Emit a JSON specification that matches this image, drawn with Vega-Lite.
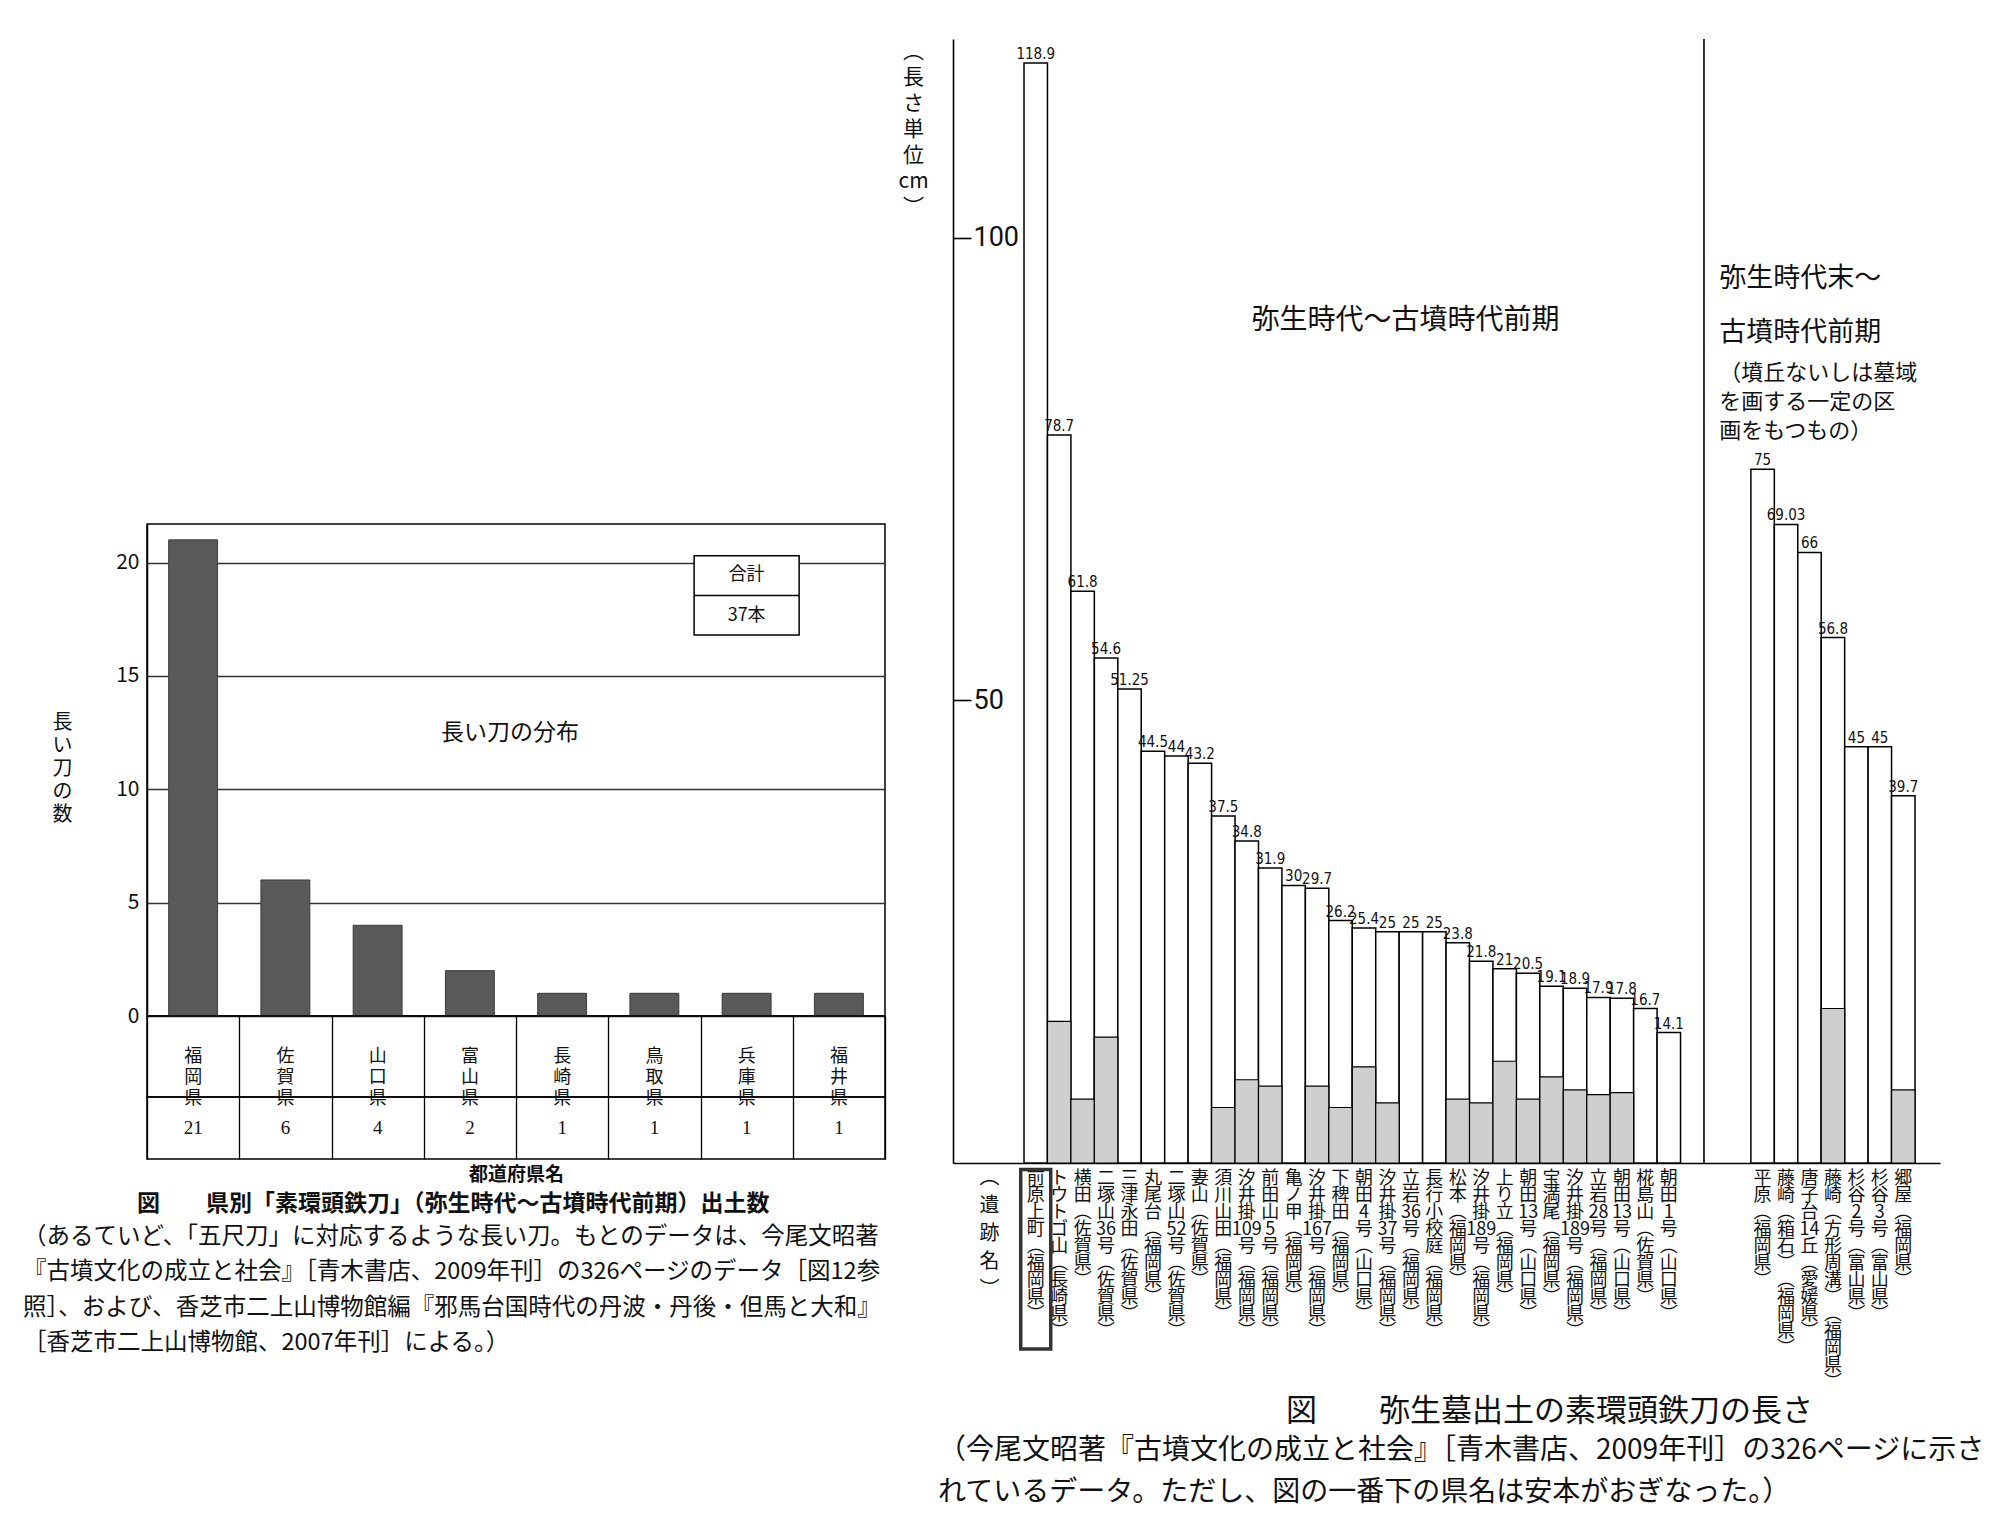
{
  "$schema": "https://vega.github.io/schema/vega-lite/v6.json",
  "padding": {"left": 23, "top": 38, "right": 2, "bottom": 4},
  "background": "white",
  "spacing": 11,
  "datasets": {
    "prefs": [
      {"pref": "福岡県", "count": 21},
      {"pref": "佐賀県", "count": 6},
      {"pref": "山口県", "count": 4},
      {"pref": "富山県", "count": 2},
      {"pref": "長崎県", "count": 1},
      {"pref": "鳥取県", "count": 1},
      {"pref": "兵庫県", "count": 1},
      {"pref": "福井県", "count": 1}
    ],
    "swords": [
      {"key": "01/前/原/上/町/︵/福/岡/県/︶", "length": 118.9, "tang": 0},
      {"key": "02/ト/ウ/ト/ゴ/山/︵/長/崎/県/︶", "length": 78.7, "tang": 15.3},
      {"key": "03/横/田/︵/佐/賀/県/︶", "length": 61.8, "tang": 6.9},
      {"key": "04/二/塚/山/36/号/︵/佐/賀/県/︶", "length": 54.6, "tang": 13.6},
      {"key": "05/三/津/永/田/︵/佐/賀/県/︶", "length": 51.25, "tang": 0},
      {"key": "06/丸/尾/台/︵/福/岡/県/︶", "length": 44.5, "tang": 0},
      {"key": "07/二/塚/山/52/号/︵/佐/賀/県/︶", "length": 44, "tang": 0},
      {"key": "08/妻/山/︵/佐/賀/県/︶", "length": 43.2, "tang": 0},
      {"key": "09/須/川/山/田/︵/福/岡/県/︶", "length": 37.5, "tang": 6.0},
      {"key": "10/汐/井/掛/109/号/︵/福/岡/県/︶", "length": 34.8, "tang": 9.0},
      {"key": "11/前/田/山/5/号/︵/福/岡/県/︶", "length": 31.9, "tang": 8.3},
      {"key": "12/亀/ノ/甲/︵/福/岡/県/︶", "length": 30, "tang": 0},
      {"key": "13/汐/井/掛/167/号/︵/福/岡/県/︶", "length": 29.7, "tang": 8.3},
      {"key": "14/下/稗/田/︵/福/岡/県/︶", "length": 26.2, "tang": 6.0},
      {"key": "15/朝/田/4/号/︵/山/口/県/︶", "length": 25.4, "tang": 10.4},
      {"key": "16/汐/井/掛/37/号/︵/福/岡/県/︶", "length": 25, "tang": 6.5},
      {"key": "17/立/岩/36/号/︵/福/岡/県/︶", "length": 25, "tang": 0},
      {"key": "18/長/行/小/校/庭/︵/福/岡/県/︶", "length": 25, "tang": 0},
      {"key": "19/松/本/︵/福/岡/県/︶", "length": 23.8, "tang": 6.9},
      {"key": "20/汐/井/掛/189/号/︵/福/岡/県/︶", "length": 21.8, "tang": 6.5},
      {"key": "21/上/り/立/︵/福/岡/県/︶", "length": 21, "tang": 11.0},
      {"key": "22/朝/田/13/号/︵/山/口/県/︶", "length": 20.5, "tang": 6.9},
      {"key": "23/宝/満/尾/︵/福/岡/県/︶", "length": 19.1, "tang": 9.3},
      {"key": "24/汐/井/掛/189/号/︵/福/岡/県/︶", "length": 18.9, "tang": 7.9},
      {"key": "25/立/岩/28/号/︵/福/岡/県/︶", "length": 17.9, "tang": 7.4},
      {"key": "26/朝/田/13/号/︵/山/口/県/︶", "length": 17.8, "tang": 7.6},
      {"key": "27/椛/島/山/︵/佐/賀/県/︶", "length": 16.7, "tang": 0},
      {"key": "28/朝/田/1/号/︵/山/口/県/︶", "length": 14.1, "tang": 0},
      {"key": "29/平/原/︵/福/岡/県/︶", "length": 75, "tang": 0},
      {"key": "30/藤/崎/︵/箱/石/︶/︵/福/岡/県/︶", "length": 69.03, "tang": 0},
      {"key": "31/唐/子/台/14/丘/︵/愛/媛/県/︶", "length": 66, "tang": 0},
      {"key": "32/藤/崎/︵/方/形/周/溝/︶/︵/福/岡/県/︶", "length": 56.8, "tang": 16.7},
      {"key": "33/杉/谷/2/号/︵/富/山/県/︶", "length": 45, "tang": 0},
      {"key": "34/杉/谷/3/号/︵/富/山/県/︶", "length": 45, "tang": 0},
      {"key": "35/郷/屋/︵/福/岡/県/︶", "length": 39.7, "tang": 7.9}
    ]
  },
  "hconcat": [
    {
      "vconcat": [
        {
          "width": 738,
          "height": 485,
          "data": {"values": [{"t": ""}]},
          "mark": {"type": "text"},
          "encoding": {"text": {"field": "t"}}
        },
        {
          "width": 738,
          "height": 492,
          "view": {"stroke": "black", "strokeWidth": 1.5},
          "data": {"name": "prefs"},
          "layer": [
            {
              "mark": {"type": "bar", "color": "#595959", "stroke": "#3a3a3a", "strokeWidth": 1},
              "encoding": {
                "x": {"field": "pref", "type": "nominal", "sort": null, "scale": {"paddingInner": 0.47, "paddingOuter": 0.235}, "axis": null},
                "y": {
                  "field": "count", "type": "quantitative",
                  "scale": {"domain": [0, 21.7], "nice": false},
                  "axis": {
                    "values": [0, 5, 10, 15, 20], "grid": true, "gridColor": "#333", "gridWidth": 1.4,
                    "ticks": false, "domain": true, "domainColor": "black", "domainWidth": 1.5,
                    "labelFontSize": 21, "labelPadding": 8,
                    "title": ["長", "い", "刀", "の", "数"], "titleAngle": 0, "titleX": -85, "titleY": 188,
                    "titleAlign": "center", "titleBaseline": "top", "titleFontSize": 20, "titleLineHeight": 23
                  }
                }
              }
            },
            {
              "data": {"values": [{}]},
              "mark": {"type": "bar", "width": 105, "fill": "white", "stroke": "black", "strokeWidth": 1.5},
              "encoding": {"x": {"datum": "兵庫県"}, "y": {"datum": 16.8}, "y2": {"datum": 20.3}}
            },
            {
              "data": {"values": [{}]},
              "mark": {"type": "tick", "size": 105, "thickness": 1.5, "color": "black", "opacity": 1},
              "encoding": {"x": {"datum": "兵庫県"}, "y": {"datum": 18.55}}
            },
            {
              "data": {"values": [{}]},
              "mark": {"type": "text", "fontSize": 18, "baseline": "middle"},
              "encoding": {"x": {"datum": "兵庫県"}, "y": {"datum": 19.45}, "text": {"value": "合計"}}
            },
            {
              "data": {"values": [{}]},
              "mark": {"type": "text", "fontSize": 18, "baseline": "middle"},
              "encoding": {"x": {"datum": "兵庫県"}, "y": {"datum": 17.65}, "text": {"value": "37本"}}
            },
            {
              "data": {"values": [{}]},
              "mark": {"type": "text", "fontSize": 23, "baseline": "middle", "dx": 40},
              "encoding": {"x": {"datum": "富山県"}, "y": {"datum": 12.5}, "text": {"value": "長い刀の分布"}}
            }
          ]
        },
        {
          "width": 738,
          "height": 81,
          "view": {"stroke": "black", "strokeWidth": 1.5},
          "data": {"name": "prefs"},
          "transform": [{"calculate": "split(datum.pref, '')", "as": "chars"}],
          "mark": {"type": "text", "fontSize": 18, "lineHeight": 21, "baseline": "middle"},
          "encoding": {
            "x": {
              "field": "pref", "type": "nominal", "sort": null,
              "scale": {"paddingInner": 0, "paddingOuter": 0},
              "axis": {"orient": "top", "grid": true, "tickBand": "extent", "gridColor": "black", "gridWidth": 1.3, "domain": false, "ticks": false, "labels": false, "title": null}
            },
            "text": {"field": "chars"}
          }
        },
        {
          "width": 738,
          "height": 62,
          "view": {"stroke": "black", "strokeWidth": 1.5},
          "data": {"name": "prefs"},
          "title": {"text": "図　　県別「素環頭鉄刀」（弥生時代～古墳時代前期）出土数", "orient": "bottom", "anchor": "start", "frame": "group", "dx": -10, "fontSize": 23, "fontWeight": "bold", "offset": 9},
          "mark": {"type": "text", "fontSize": 19, "font": "Liberation Serif", "baseline": "middle"},
          "encoding": {
            "x": {
              "field": "pref", "type": "nominal", "sort": null,
              "scale": {"paddingInner": 0, "paddingOuter": 0},
              "axis": {"orient": "bottom", "grid": true, "tickBand": "extent", "gridColor": "black", "gridWidth": 1.3, "domain": false, "ticks": false, "labels": false, "title": "都道府県名", "titleFontSize": 19, "titleFontWeight": "bold", "titlePadding": 6}
            },
            "text": {"field": "count", "type": "quantitative"}
          }
        }
      ],
      "spacing": 0,
      "bounds": "flush",
      "title": {
        "text": [
          "（あるていど、「五尺刀」に対応するような長い刀。もとのデータは、今尾文昭著",
          "『古墳文化の成立と社会』［青木書店、2009年刊］の326ページのデータ［図12参",
          "照］、および、香芝市二上山博物館編『邪馬台国時代の丹波・丹後・但馬と大和』",
          "［香芝市二上山博物館、2007年刊］による。）"
        ],
        "orient": "bottom", "anchor": "start", "frame": "group", "dx": -124, "fontSize": 23.5, "lineHeight": 35.5, "fontWeight": "normal", "offset": 8
      }
    },
    {
      "vconcat": [
        {
          "width": 987,
          "height": 1124,
          "data": {"name": "swords"},
          "title": {"text": "図　　弥生墓出土の素環頭鉄刀の長さ", "orient": "bottom", "anchor": "start", "frame": "group", "dx": 333, "fontSize": 31, "fontWeight": "normal", "offset": 6},
          "encoding": {
            "x": {
              "field": "key", "type": "nominal",
              "scale": {
                "domain": [
                  "a1", "a2",
                  "01/前/原/上/町/︵/福/岡/県/︶",
                  "02/ト/ウ/ト/ゴ/山/︵/長/崎/県/︶",
                  "03/横/田/︵/佐/賀/県/︶",
                  "04/二/塚/山/36/号/︵/佐/賀/県/︶",
                  "05/三/津/永/田/︵/佐/賀/県/︶",
                  "06/丸/尾/台/︵/福/岡/県/︶",
                  "07/二/塚/山/52/号/︵/佐/賀/県/︶",
                  "08/妻/山/︵/佐/賀/県/︶",
                  "09/須/川/山/田/︵/福/岡/県/︶",
                  "10/汐/井/掛/109/号/︵/福/岡/県/︶",
                  "11/前/田/山/5/号/︵/福/岡/県/︶",
                  "12/亀/ノ/甲/︵/福/岡/県/︶",
                  "13/汐/井/掛/167/号/︵/福/岡/県/︶",
                  "14/下/稗/田/︵/福/岡/県/︶",
                  "15/朝/田/4/号/︵/山/口/県/︶",
                  "16/汐/井/掛/37/号/︵/福/岡/県/︶",
                  "17/立/岩/36/号/︵/福/岡/県/︶",
                  "18/長/行/小/校/庭/︵/福/岡/県/︶",
                  "19/松/本/︵/福/岡/県/︶",
                  "20/汐/井/掛/189/号/︵/福/岡/県/︶",
                  "21/上/り/立/︵/福/岡/県/︶",
                  "22/朝/田/13/号/︵/山/口/県/︶",
                  "23/宝/満/尾/︵/福/岡/県/︶",
                  "24/汐/井/掛/189/号/︵/福/岡/県/︶",
                  "25/立/岩/28/号/︵/福/岡/県/︶",
                  "26/朝/田/13/号/︵/山/口/県/︶",
                  "27/椛/島/山/︵/佐/賀/県/︶",
                  "28/朝/田/1/号/︵/山/口/県/︶",
                  "g1", "g2", "g3",
                  "29/平/原/︵/福/岡/県/︶",
                  "30/藤/崎/︵/箱/石/︶/︵/福/岡/県/︶",
                  "31/唐/子/台/14/丘/︵/愛/媛/県/︶",
                  "32/藤/崎/︵/方/形/周/溝/︶/︵/福/岡/県/︶",
                  "33/杉/谷/2/号/︵/富/山/県/︶",
                  "34/杉/谷/3/号/︵/富/山/県/︶",
                  "35/郷/屋/︵/福/岡/県/︶",
                  "z1"
                ],
                "paddingInner": 0, "paddingOuter": 0.547, "align": 0.94
              },
              "axis": {
                "orient": "bottom",
                "labelExpr": "slice(split(datum.value, '/'), 1)",
                "labelAngle": 0, "labelAlign": "center", "labelBaseline": "top", "labelPadding": 6,
                "labelFontSize": 18, "labelLineHeight": 17, "labelOverlap": false, "labelBound": false, "labelLimit": 0,
                "ticks": false, "domainColor": "black", "domainWidth": 1.6,
                "title": ["︵", "遺", "跡", "名", "︶"], "titleAngle": 0, "titleX": 36, "titleY": 4,
                "titleAlign": "center", "titleBaseline": "top", "titleFontSize": 20, "titleLineHeight": 28
              }
            }
          },
          "layer": [
            {
              "mark": {"type": "bar", "fill": "white", "stroke": "black", "strokeWidth": 1.5},
              "encoding": {
                "y": {
                  "field": "length", "type": "quantitative",
                  "scale": {"domain": [0, 121.5], "nice": false},
                  "axis": {
                    "values": [50, 100], "orient": "left", "grid": false,
                    "tickSize": -18, "tickWidth": 1.6, "tickColor": "black",
                    "labelPadding": -2, "labelAlign": "left", "labelBaseline": "middle", "labelFontSize": 27, "labelFont": "Roboto",
                    "domainColor": "black", "domainWidth": 1.6,
                    "title": ["︵", "長", "さ", "　", "単", "位", "cm", "︶"], "titleAngle": 0, "titleX": -40, "titleY": 1,
                    "titleAlign": "center", "titleBaseline": "top", "titleFontSize": 21, "titleLineHeight": 26
                  }
                }
              }
            },
            {
              "transform": [{"filter": "datum.tang > 0"}],
              "mark": {"type": "bar", "fill": "#cfcfcf", "stroke": "black", "strokeWidth": 1.2},
              "encoding": {"y": {"field": "tang", "type": "quantitative"}}
            },
            {
              "mark": {"type": "text", "baseline": "bottom", "dy": -1, "fontSize": 15, "font": "DejaVu Sans Condensed, Liberation Sans Narrow, sans-serif"},
              "encoding": {
                "y": {"field": "length", "type": "quantitative"},
                "text": {"field": "length", "type": "quantitative"}
              }
            },
            {
              "data": {"values": [{}]},
              "mark": {"type": "bar", "width": 30, "fill": null, "fillOpacity": 0, "stroke": "#333", "strokeWidth": 3.5, "clip": false},
              "encoding": {"x": {"datum": "01/前/原/上/町/︵/福/岡/県/︶"}, "y": {"datum": -0.7}, "y2": {"datum": -20.1}}
            },
            {
              "data": {"values": [{"key": "g1"}]},
              "mark": {"type": "rule", "strokeWidth": 1.6, "color": "black"},
              "encoding": {"x": {"field": "key", "type": "nominal", "bandPosition": 1}}
            },
            {
              "data": {"values": [{}]},
              "mark": {"type": "text", "fontSize": 28, "baseline": "middle", "dx": 18},
              "encoding": {"x": {"datum": "16/汐/井/掛/37/号/︵/福/岡/県/︶"}, "y": {"datum": 91}, "text": {"value": "弥生時代～古墳時代前期"}}
            },
            {
              "data": {"values": [{}]},
              "mark": {"type": "text", "fontSize": 27, "baseline": "top", "align": "left", "dx": -20, "lineHeight": 54},
              "encoding": {"x": {"datum": "g3"}, "y": {"datum": 97}, "text": {"value": ["弥生時代末～", "古墳時代前期"]}}
            },
            {
              "data": {"values": [{}]},
              "mark": {"type": "text", "fontSize": 22, "baseline": "top", "align": "left", "dx": -20, "lineHeight": 29},
              "encoding": {"x": {"datum": "g3"}, "y": {"datum": 86.5}, "text": {"value": ["（墳丘ないしは墓域", "　を画する一定の区", "　画をもつもの）"]}}
            }
          ]
        }
      ],
      "title": {
        "text": [
          "（今尾文昭著『古墳文化の成立と社会』［青木書店、2009年刊］の326ページに示さ",
          "れているデータ。ただし、図の一番下の県名は安本がおぎなった。）"
        ],
        "orient": "bottom", "anchor": "start", "frame": "group", "dx": -15, "fontSize": 28, "lineHeight": 42, "fontWeight": "normal", "offset": 10
      }
    }
  ],
  "config": {
    "font": "Noto Sans CJK JP",
    "view": {"stroke": null},
    "text": {"font": "Noto Sans CJK JP", "color": "#111"},
    "axis": {"labelFont": "Noto Sans CJK JP", "titleFont": "Noto Sans CJK JP", "labelColor": "#111", "titleColor": "#111", "titleFontWeight": "normal"},
    "title": {"font": "Noto Sans CJK JP", "color": "#111"}
  }
}
